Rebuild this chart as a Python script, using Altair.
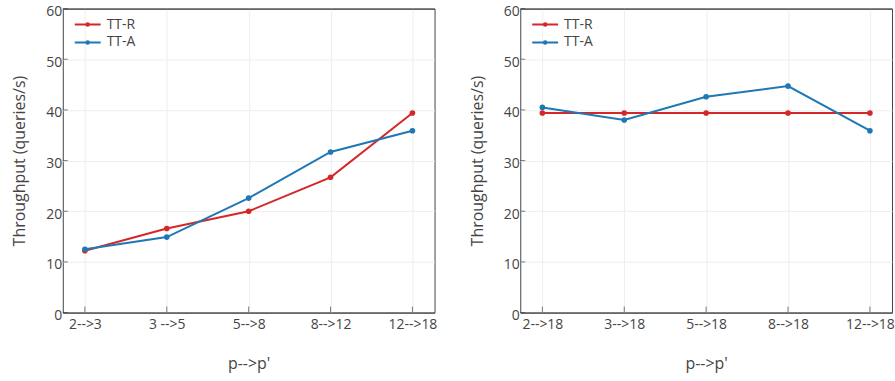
import altair as alt
import pandas as pd

series_names = ["TT-R", "TT-A"]
colors = ["#d62728", "#1f77b4"]

left_cats = ["2-->3", "3 -->5", "5-->8", "8-->12", "12-->18"]
left_ttr = [12.2, 16.6, 20.0, 26.7, 39.4]
left_tta = [12.5, 14.9, 22.6, 31.7, 35.9]

right_cats = ["2-->18", "3-->18", "5-->18", "8-->18", "12-->18"]
right_ttr = [39.4, 39.4, 39.4, 39.4, 39.4]
right_tta = [40.5, 38.0, 42.6, 44.7, 35.9]

y_ticks = [0, 10, 20, 30, 40, 50, 60]

W, H = 373, 305
FONT = "Open Sans"
GREY = "#444444"

LEG_PATH = ("M-1.3,0L1.3,0"
            "M0,-0.13A0.13,0.13 0 1,1 0,0.13A0.13,0.13 0 1,1 0,-0.13Z")

edge_grid = {"condition": {"test": "datum.value === 0 || datum.value === 60",
                           "value": GREY},
             "value": "#eeeeee"}


def panel(cats, ttr, tta):
    rows = []
    for c, v in zip(cats, ttr):
        rows.append({"cat": c, "value": v, "series": "TT-R"})
    for c, v in zip(cats, tta):
        rows.append({"cat": c, "value": v, "series": "TT-A"})
    df = pd.DataFrame(rows)

    xscale = alt.Scale(type="point", domain=cats, padding=0.27)
    yscale = alt.Scale(domain=[0, 60], nice=False)

    lines = alt.Chart(df).mark_line(
        strokeWidth=2,
        point=alt.OverlayMarkDef(filled=True, size=32, opacity=1),
    ).encode(
        x=alt.X("cat:N", scale=xscale, sort=cats, title="p-->p'",
                axis=alt.Axis(labelAngle=0, labelPadding=5, titlePadding=24,
                              grid=True)),
        y=alt.Y("value:Q", scale=yscale, title="Throughput (queries/s)",
                axis=alt.Axis(values=y_ticks, labelPadding=1, titlePadding=18,
                              labelOffset=3,
                              grid=True, gridColor=edge_grid)),
        color=alt.Color("series:N",
                        scale=alt.Scale(domain=series_names, range=colors),
                        sort=series_names,
                        legend=alt.Legend(title=None, orient="none",
                                          legendX=14, legendY=5,
                                          symbolType=LEG_PATH, symbolSize=400,
                                          symbolStrokeWidth=2,
                                          labelOffset=8, labelFontSize=14,
                                          labelFont=FONT, labelColor=GREY,
                                          rowPadding=0, padding=0)),
        order=alt.Order("series:N", sort="descending"),
    )

    ydf = pd.DataFrame({"value": y_ticks})
    yticks = alt.Chart(ydf).mark_tick(orient="horizontal", size=5, thickness=1,
                                      color=GREY).encode(
        y=alt.Y("value:Q", scale=yscale),
        x=alt.value(2.5),
    )
    xdf = pd.DataFrame({"cat": cats})
    xticks = alt.Chart(xdf).mark_tick(orient="vertical", size=6, thickness=1,
                                      color=GREY).encode(
        x=alt.X("cat:N", scale=xscale, sort=cats),
        y=alt.value(H - 3),
    )
    return alt.layer(lines, yticks, xticks).properties(width=W, height=H)


left = panel(left_cats, left_ttr, left_tta)
right = panel(right_cats, right_ttr, right_tta)

chart = alt.hconcat(left, right, spacing=31).resolve_scale(
    color="independent"
).resolve_legend(color="independent").properties(
    padding={"left": 11, "top": 3, "right": 0, "bottom": 0},
    background="white",
).configure_view(
    stroke=GREY, strokeWidth=1
).configure_axis(
    domain=False, ticks=False, tickSize=0,
    gridColor="#eeeeee", gridWidth=1,
    labelFont=FONT, labelFontSize=14, labelColor=GREY,
    titleFont=FONT, titleFontSize=16, titleFontWeight="normal", titleColor=GREY,
).configure_legend(
    labelFont=FONT, labelFontSize=14, labelColor=GREY,
)

chart.save("out.html", embed_options={"renderer": "svg", "actions": False})
